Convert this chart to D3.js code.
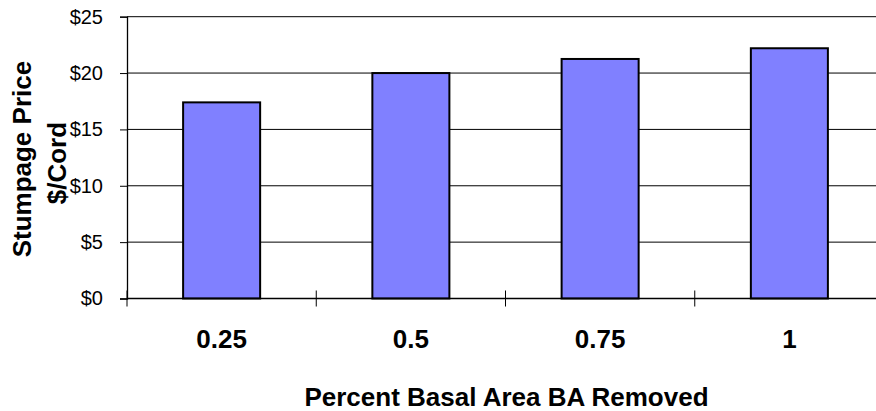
<!DOCTYPE html>
<html>
<head>
<meta charset="utf-8">
<script src="https://cdn.jsdelivr.net/npm/d3@7"></script>
<style>
  html, body { margin: 0; padding: 0; background: #fff; }
  svg { display: block; font-family: "Liberation Sans", Arial, sans-serif; }
</style>
</head>
<body>
<svg id="chart" width="876" height="411"></svg>
<script>
const categories = ["0.25", "0.5", "0.75", "1"];
const prices = [17.4, 20.0, 21.25, 22.2];
const yTicks = [0, 5, 10, 15, 20, 25];
const xTitle = "Percent Basal Area BA Removed";
const yTitleLines = ["Stumpage Price", "$/Cord"];

(function () {
const svg = d3.select("#chart");
const mLeft = 127, mRight = 884, mTop = 16.7, mBottom = 298.5;

const x = d3.scaleBand().domain(categories).range([mLeft, mRight])
  .paddingInner(0.593).paddingOuter(0.2965);
const y = d3.scaleLinear().domain([0, 25]).range([mBottom, mTop]);

// gridlines
svg.append("g").selectAll("line").data(yTicks).join("line")
  .attr("x1", mLeft).attr("x2", mRight)
  .attr("y1", d => y(d)).attr("y2", d => y(d))
  .attr("stroke", "#000").attr("stroke-width", 1);

// bars
svg.append("g").selectAll("rect").data(categories).join("rect")
  .attr("x", d => x(d))
  .attr("width", x.bandwidth())
  .attr("y", (d, i) => y(prices[i]))
  .attr("height", (d, i) => y(0) - y(prices[i]))
  .attr("fill", "#8080FF")
  .attr("stroke", "#000")
  .attr("stroke-width", 2);

// y axis
const yAxis = d3.axisLeft(y).tickValues(yTicks).tickSize(7).tickPadding(17)
  .tickFormat(d => "$" + d);
const gy = svg.append("g").attr("transform", `translate(${mLeft},0)`).call(yAxis);
gy.select(".domain").attr("stroke", "#000").attr("stroke-width", 1.3);
gy.selectAll(".tick line").attr("stroke", "#000");
gy.selectAll(".tick text").attr("font-size", 20).attr("fill", "#000")
  .attr("font-family", "Liberation Sans, Arial, sans-serif");

// x axis line and ticks at band boundaries
svg.append("line").attr("x1", mLeft).attr("x2", mRight)
  .attr("y1", y(0)).attr("y2", y(0)).attr("stroke", "#000").attr("stroke-width", 1.3);
svg.append("g").selectAll("line").data(categories).join("line")
  .attr("x1", d => x(d) - (x.step() - x.bandwidth()) / 2)
  .attr("x2", d => x(d) - (x.step() - x.bandwidth()) / 2)
  .attr("y1", y(0) - 8).attr("y2", y(0) + 8)
  .attr("stroke", "#000").attr("stroke-width", 1);

// x tick labels
svg.append("g").selectAll("text").data(categories).join("text")
  .attr("x", d => x(d) + x.bandwidth() / 2)
  .attr("y", 348)
  .attr("text-anchor", "middle")
  .attr("font-size", 26).attr("font-weight", "bold")
  .text(d => d);

// x title
svg.append("text").attr("x", (mLeft + mRight) / 2 + 1).attr("y", 405.5)
  .attr("text-anchor", "middle").attr("font-size", 26).attr("font-weight", "bold")
  .text(xTitle);

// y title
const yt = svg.append("text")
  .attr("transform", `translate(30.5,${(mTop + mBottom) / 2 + 1.5}) rotate(-90)`)
  .attr("text-anchor", "middle").attr("font-size", 26).attr("font-weight", "bold");
yt.selectAll("tspan").data(yTitleLines).join("tspan")
  .attr("x", (d, i) => i === 0 ? 0 : -4).attr("dy", (d, i) => i === 0 ? 0 : 35)
  .text(d => d);
})();
</script>
</body>
</html>
